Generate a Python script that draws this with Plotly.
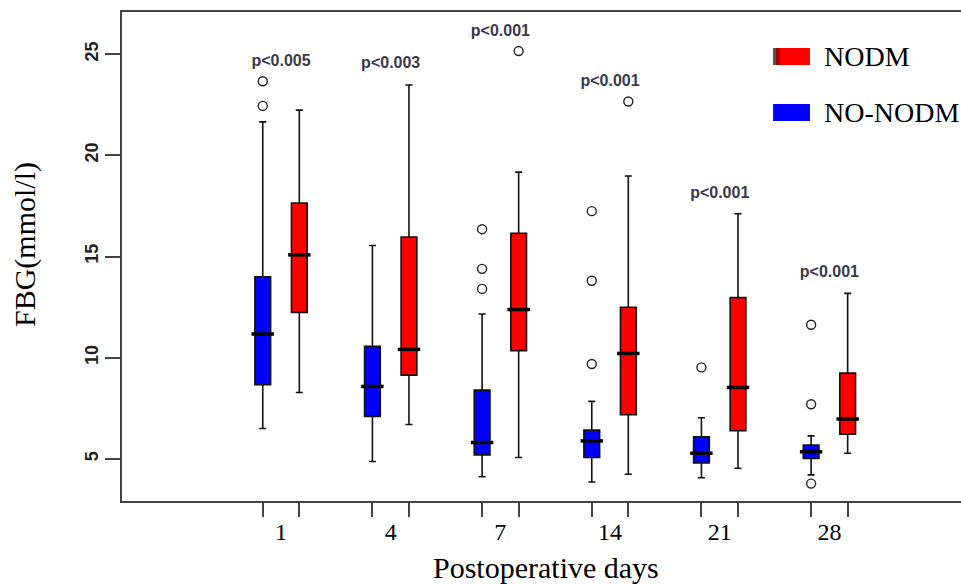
import plotly.graph_objects as go

# ---- data ----
days = ["1", "4", "7", "14", "21", "28"]

nodm_lo = [8.28, 6.70, 5.07, 4.24, 4.54, 5.28]
nodm_q1 = [12.24, 9.14, 10.35, 7.18, 6.39, 6.22]
nodm_med = [15.08, 10.41, 12.38, 10.21, 8.53, 6.97]
nodm_q3 = [17.64, 15.96, 16.15, 12.49, 12.97, 9.24]
nodm_hi = [22.23, 23.47, 19.17, 18.98, 17.11, 13.18]
nodm_out = [[], [], [25.15], [22.66], [], []]

non_lo = [6.50, 4.87, 4.12, 3.86, 4.07, 4.21]
non_q1 = [8.66, 7.10, 5.20, 5.07, 4.80, 5.02]
non_med = [11.17, 8.58, 5.81, 5.89, 5.28, 5.35]
non_q3 = [14.00, 10.56, 8.40, 6.42, 6.09, 5.68]
non_hi = [21.65, 15.54, 12.16, 7.84, 7.03, 6.14]
non_out = [[23.66, 22.44], [], [16.35, 14.39, 13.40], [17.24, 13.80, 9.69], [9.52], [11.63, 7.70, 3.78]]

p_labels = ["p<0.005", "p<0.003", "p<0.001", "p<0.001", "p<0.001", "p<0.001"]
p_y = [24.62, 24.49, 26.09, 23.60, 18.10, 14.19]

y_ticks = [5, 10, 15, 20, 25]

# ---- layout helpers ----
n = len(days)
pos_non = [1 + 3 * i for i in range(n)]
pos_nodm = [2 + 3 * i for i in range(n)]
pos_mid = [1.5 + 3 * i for i in range(n)]
BW = 0.43

fig = go.Figure()

def add_group(pos, lo, q1, med, q3, hi, outs, color):
    fig.add_trace(go.Box(
        x=pos, lowerfence=lo, q1=q1, median=med, q3=q3, upperfence=hi,
        width=BW, whiskerwidth=0.45, boxpoints=False,
        fillcolor=color, line=dict(color="#111111", width=1.6),
        showlegend=False, hoverinfo="skip"))
    fig.add_trace(go.Scatter(
        x=pos, y=med, mode="markers", showlegend=False, hoverinfo="skip",
        marker=dict(symbol="line-ew", size=16, line=dict(color="black", width=3.5))))
    ox, oy = [], []
    for p, vals in zip(pos, outs):
        for v in vals:
            ox.append(p)
            oy.append(v)
    fig.add_trace(go.Scatter(
        x=ox, y=oy, mode="markers", showlegend=False, hoverinfo="skip",
        marker=dict(symbol="circle-open", size=9, color="#222222",
                    line=dict(color="#222222", width=1.4))))

add_group(pos_non, non_lo, non_q1, non_med, non_q3, non_hi, non_out, "#0000FF")
add_group(pos_nodm, nodm_lo, nodm_q1, nodm_med, nodm_q3, nodm_hi, nodm_out, "#FF0000")

# p-value labels
fig.add_trace(go.Scatter(
    x=pos_mid, y=p_y, mode="text", text=p_labels, showlegend=False, hoverinfo="skip",
    textfont=dict(family="Liberation Sans", size=16, color="#3a3a4c", weight="bold")))

# legend drawn as shapes + text (paper coords)
legend_items = [("NODM", "#FF0000", 0.9264, 0.8916, 0.908),
                ("NO-NODM", "#0000FF", 0.812, 0.777, 0.7955)]
for name, col, y1, y0, yt in legend_items:
    fig.add_shape(type="rect", xref="paper", yref="paper", x0=0.776, x1=0.820, y0=y0, y1=y1,
                  fillcolor=col, line=dict(width=0))
    fig.add_annotation(xref="paper", yref="paper", x=0.8343, y=yt, text=name, showarrow=False,
                       xanchor="left", yanchor="middle",
                       font=dict(family="Liberation Serif", size=28, color="black"))
fig.add_shape(type="rect", xref="paper", yref="paper", x0=0.776, x1=0.7795, y0=0.8916, y1=0.9264,
              fillcolor="#555555", line=dict(width=0))
fig.add_shape(type="rect", xref="paper", yref="paper", x0=0.7795, x1=0.784, y0=0.8916, y1=0.9264,
              fillcolor="#B00000", line=dict(width=0))

# axis titles
fig.add_annotation(xref="paper", yref="paper", x=0.5054, y=-0.137, text="Postoperative days",
                   showarrow=False, xanchor="center", yanchor="middle",
                   font=dict(family="Liberation Serif", size=30, color="black"))
fig.add_annotation(xref="paper", yref="paper", x=-0.1156, y=0.5235, text="FBG(mmol/l)",
                   showarrow=False, textangle=-90, xanchor="center", yanchor="middle",
                   font=dict(family="Liberation Serif", size=30, color="black"))

fig.update_layout(
    width=961, height=584,
    margin=dict(l=122, r=0, t=12, b=83),
    paper_bgcolor="white", plot_bgcolor="white",
    boxmode="overlay",
    xaxis=dict(range=[-2.85, 20.1], showgrid=False, zeroline=False,
               showline=True, linecolor="#444444", linewidth=2, mirror=True,
               tickmode="array", tickvals=pos_mid, ticktext=days, ticks="",
               ticklabelstandoff=8,
               tickfont=dict(family="Liberation Serif", size=24, color="black"),
               minor=dict(tickmode="array", tickvals=pos_non + pos_nodm, ticks="outside",
                          ticklen=14, tickwidth=2, tickcolor="#444444", showgrid=False)),
    yaxis=dict(range=[2.92, 27.08], showgrid=False, zeroline=False,
               showline=True, linecolor="#444444", linewidth=2,
               tickmode="array", tickvals=y_ticks, ticks="outside", ticklen=15,
               tickwidth=2, tickcolor="#444444", tickangle=-90,
               tickfont=dict(family="Liberation Sans", size=18, color="#222222", weight="bold")),
)

fig.write_html("out.html", config={"displayModeBar": False},
               post_script="document.body.style.margin='0';document.body.style.padding='0';")
